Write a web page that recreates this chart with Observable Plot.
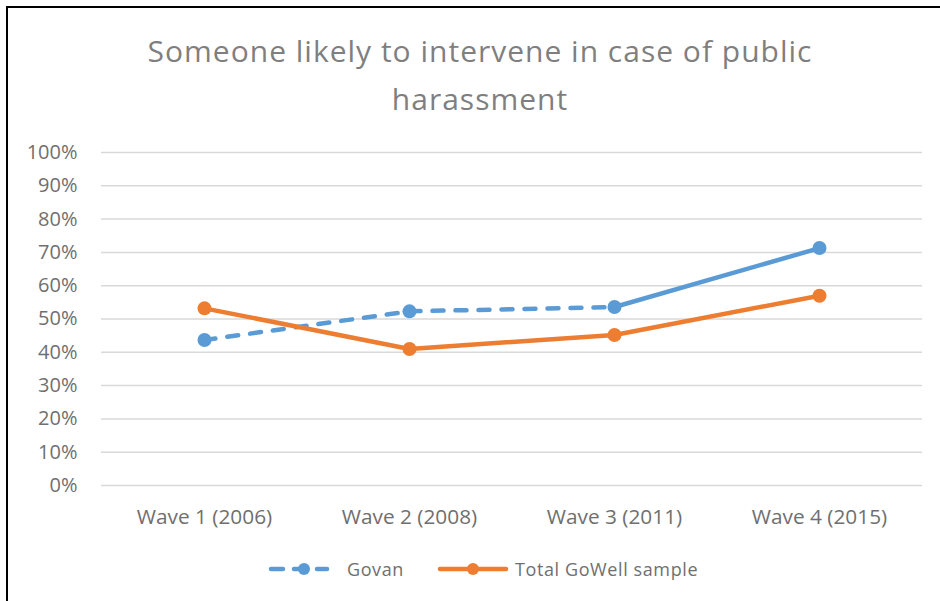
<!DOCTYPE html>
<html>
<head>
<meta charset="utf-8">
<script src="https://cdn.jsdelivr.net/npm/d3@7"></script>
<script src="https://cdn.jsdelivr.net/npm/@observablehq/plot@0.6"></script>
<style>
  html, body { margin: 0; padding: 0; background: #fff; }
  body { width: 940px; height: 601px; position: relative; overflow: hidden; font-family: "Open Sans", Lato, sans-serif; }
  #frame { position: absolute; left: 6px; top: 6px; width: 940px; height: 600px; border-top: 2px solid #000; border-left: 2px solid #000; }
  #title { position: absolute; left: 0; width: 960px; top: 27px; text-align: center; font-size: 30px; letter-spacing: 1px; line-height: 48px; color: #7f7f7f; }
  #chart { position: absolute; left: 0; top: 0; }
  #legend { position: absolute; top: 0; left: 0; width: 940px; height: 601px; pointer-events: none; }
  .sym { position: absolute; }
  .lab { position: absolute; font-size: 18px; letter-spacing: 0.6px; color: #6f6f6f; line-height: 24px; white-space: nowrap; }
</style>
</head>
<body>
<div id="frame"></div>
<div id="chart"></div>
<div id="title">Someone likely to intervene in case of public<br>harassment</div>
<div id="legend"></div>
<script>
const waves = ["Wave 1 (2006)", "Wave 2 (2008)", "Wave 3 (2011)", "Wave 4 (2015)"];
const govan = [43.7, 52.3, 53.6, 71.3];
const total = [53.2, 41.0, 45.2, 57.0];
const govanDashed = [true, true, false]; // segment styles between consecutive waves
const yTicks = [0, 10, 20, 30, 40, 50, 60, 70, 80, 90, 100];
const seriesNames = ["Govan", "Total GoWell sample"];
const colors = ["#5B9BD5", "#ED7D31"];

const govanData = waves.map((w, i) => ({wave: w, value: govan[i], i}));
const totalData = waves.map((w, i) => ({wave: w, value: total[i], i}));
const govanDash = govanData.filter(d => d.i <= govanDashed.lastIndexOf(true) + 1);
const govanSolid = govanData.filter(d => d.i >= govanDashed.indexOf(false));

const plot = Plot.plot({
  width: 940,
  height: 601,
  marginLeft: 101,
  marginRight: 18,
  marginTop: 152,
  marginBottom: 116,
  style: {fontFamily: "'Open Sans', Lato, sans-serif", fontSize: "18px", color: "#6f6f6f", background: "transparent"},
  x: {type: "point", domain: waves, padding: 0.5, label: null},
  y: {domain: [0, 100], label: null},
  marks: [
    Plot.ruleY(yTicks, {stroke: "#d9d9d9", strokeWidth: 1.5}),
    Plot.axisY(yTicks, {tickFormat: d => d + "%", tickSize: 0, tickPadding: 24, fontSize: 20, style: "letter-spacing: 1.4px", fill: "#6f6f6f"}),
    Plot.axisX(waves, {tickSize: 0, tickPadding: 24, fontSize: 20.8, fill: "#6f6f6f"}),
    Plot.line(govanDash, {x: "wave", y: "value", stroke: colors[0], strokeWidth: 4.5, strokeDasharray: "11,12", strokeLinecap: "round"}),
    Plot.line(govanSolid, {x: "wave", y: "value", stroke: colors[0], strokeWidth: 4.5, strokeLinecap: "round"}),
    Plot.dot(govanData, {x: "wave", y: "value", r: 7, fill: colors[0]}),
    Plot.line(totalData, {x: "wave", y: "value", stroke: colors[1], strokeWidth: 4.5, strokeLinecap: "round"}),
    Plot.dot(totalData, {x: "wave", y: "value", r: 7, fill: colors[1]})
  ]
});
document.getElementById("chart").appendChild(plot);

// legend
const legend = document.getElementById("legend");
const symLeft = [268, 437];
const symWidth = [62, 72];
const labLeft = [347, 515];
const cy = 569;
seriesNames.forEach((name, k) => {
  const dashed = k === 0;
  const w = symWidth[k];
  const sym = document.createElement("div");
  sym.className = "sym";
  sym.style.left = symLeft[k] + "px";
  sym.style.top = (cy - 10) + "px";
  sym.innerHTML = `<svg width="${w}" height="20"><line x1="3" y1="10" x2="${w-3}" y2="10" stroke="${colors[k]}" stroke-width="4.5" stroke-linecap="round" ${dashed ? 'stroke-dasharray="12,11"' : ''}/><circle cx="${dashed ? 36 : w/2}" cy="10" r="6" fill="${colors[k]}"/></svg>`;
  legend.appendChild(sym);
  const lab = document.createElement("div");
  lab.className = "lab";
  lab.style.left = labLeft[k] + "px";
  lab.style.top = (cy - 12) + "px";
  lab.textContent = name;
  legend.appendChild(lab);
});
</script>
</body>
</html>
